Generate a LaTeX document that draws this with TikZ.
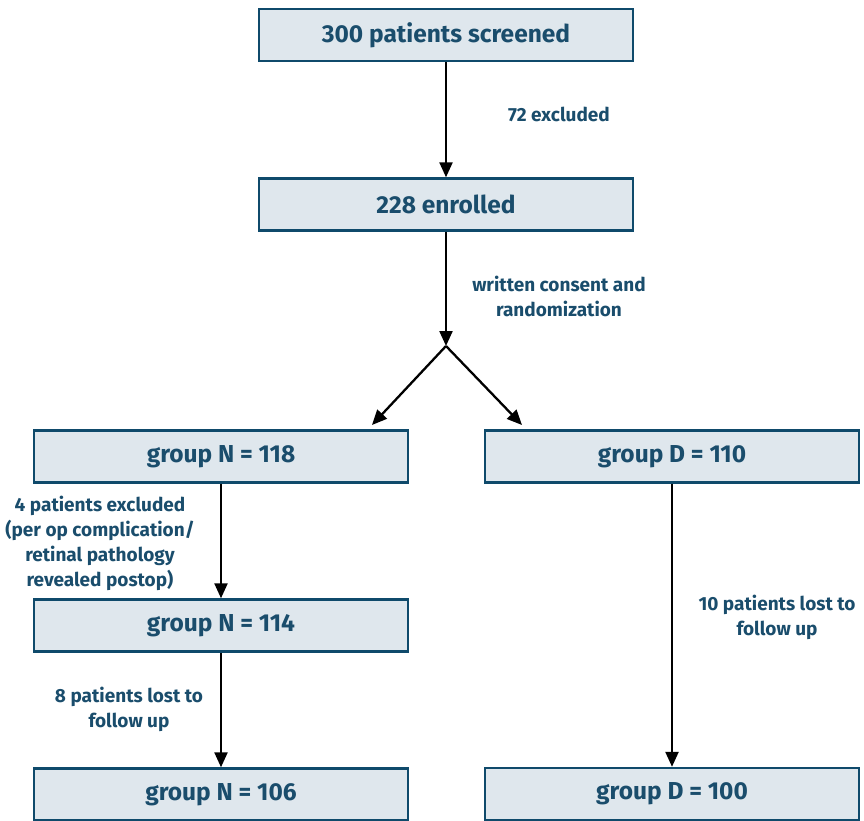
\documentclass[tikz,border=0pt]{standalone}
\usepackage{fontspec}
\setmainfont{Fira Sans}
\usetikzlibrary{arrows.meta}
\definecolor{boxfill}{HTML}{DFE7ED}
\definecolor{boxline}{HTML}{0F4A6B}
\definecolor{txt}{HTML}{1A4D6C}
\tikzset{
  box/.style={draw=boxline, line width=2.4pt, fill=boxfill, minimum width=374pt, minimum height=52pt, inner sep=0pt, text=txt, font=\fontsize{24.5}{26}\selectfont\bfseries},
  lbl/.style={text=txt, align=center, font=\fontsize{19}{25}\selectfont\bfseries, inner sep=0pt},
  arr/.style={line width=2.3pt, -{Triangle[length=15pt,width=13pt]}},
}
\begin{document}
\begin{tikzpicture}[x=1pt,y=-1pt]
\useasboundingbox (0,0) rectangle (864,821);
\node[box] (scr) at (446,35) {300 patients screened};
\node[box] (enr) at (446,204.5) {228 enrolled};
\node[box] (n118) at (221,456.5) {group N = 118};
\node[box] (d110) at (672,456.5) {group D = 110};
\node[box] (n114) at (221,625.5) {group N = 114};
\node[box] (n106) at (221,794.5) {group N = 106};
\node[box] (d100) at (672,794) {group D = 100};
\coordinate (split) at (446,346);
\coordinate (tl) at (372,425);
\coordinate (tr) at (522,425);
\draw[arr] (scr) -- (enr);
\draw[arr] (enr) -- (split);
\draw[arr] (split) -- (tl);
\draw[arr] (split) -- (tr);
\draw[arr] (n118) -- (n114);
\draw[arr] (n114) -- (n106);
\draw[arr] (d110) -- (d100);
\node[lbl] (l1) at (559,114) {72 excluded};
\node[lbl] (l2) at (559,296) {written consent and\\randomization};
\node[lbl] (l3) at (100,543.5) {4 patients excluded\\(per op complication/\\retinal pathology\\revealed postop)};
\node[lbl] (l4) at (129,709.5) {8 patients lost to\\follow up};
\node[lbl] (l5) at (777,617.5) {10 patients lost to\\follow up};
\end{tikzpicture}
\end{document}
